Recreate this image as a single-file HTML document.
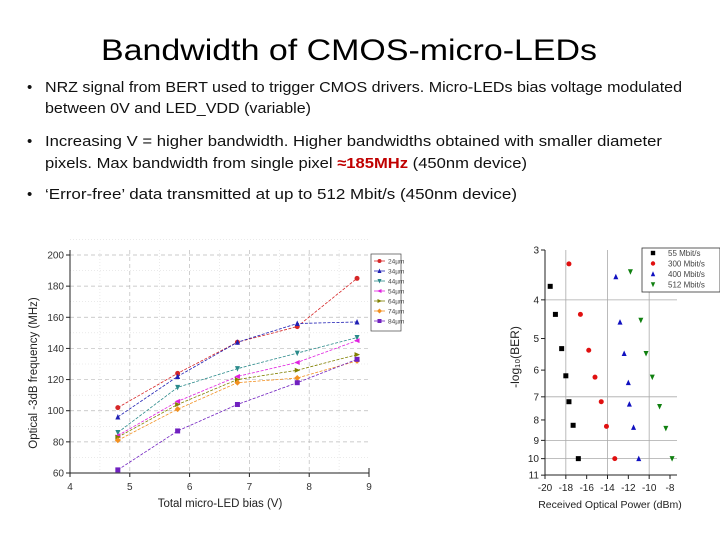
<!DOCTYPE html>
<html><head><meta charset="utf-8"><style>
html,body{margin:0;padding:0;background:#fff;}
svg{display:block;font-family:"Liberation Sans",Arial,sans-serif;}
</style></head><body>
<svg id="s" width="720" height="540" viewBox="0 0 720 540" xmlns="http://www.w3.org/2000/svg">
<text x="101" y="60" font-size="30" textLength="496" lengthAdjust="spacingAndGlyphs">Bandwidth of CMOS-micro-LEDs</text>
<g font-size="15" fill="#111">
<text x="27" y="92">•</text>
<text x="45" y="92" textLength="637" lengthAdjust="spacingAndGlyphs">NRZ signal from BERT used to trigger CMOS drivers. Micro-LEDs bias voltage modulated</text>
<text x="45" y="113" textLength="266" lengthAdjust="spacingAndGlyphs">between 0V and LED_VDD (variable)</text>
<text x="27" y="146">•</text>
<text x="45" y="146" textLength="617" lengthAdjust="spacingAndGlyphs">Increasing V = higher bandwidth. Higher bandwidths obtained with smaller diameter</text>
<text x="45" y="168" textLength="482" lengthAdjust="spacingAndGlyphs">pixels. Max bandwidth from single pixel <tspan fill="#c00000" font-weight="bold">≈185MHz</tspan> (450nm device)</text>
<text x="27" y="199">•</text>
<text x="45" y="199" textLength="472" lengthAdjust="spacingAndGlyphs">‘Error-free’ data transmitted at up to 512 Mbit/s (450nm device)</text>
</g>
<g id="left"></g>
<g id="right"></g>
</svg>
<script>
const xVals=[4.8,5.8,6.8,7.8,8.8];
const seriesNames=['24µm','34µm','44µm','54µm','64µm','74µm','84µm'];
const s24=[102,124,144,154,185];
const s34=[96,122,144,156,157];
const s44=[86,115,127,137,147];
const s54=[84,106,122,131,145];
const s64=[83,104,120,126,136];
const s74=[81,101,118,121,132];
const s84=[62,87,104,118,133];
const seriesColors=['#d62728','#1f1fb4','#2a8a8a','#e020e0','#808000','#f29020','#7020c0'];
const seriesMarkers=['circle','up','down','left','right','diamond','square'];
const xTicks=[4,5,6,7,8,9];
const yTicks=[60,80,100,120,140,160,180,200];

const berPower0=[-19.5,-19,-18.4,-18,-17.7,-17.3,-16.8];
const berVal0=[3.7,4.35,5.3,6.2,7.2,8.25,10];
const berPower1=[-17.7,-16.6,-15.8,-15.2,-14.6,-14.1,-13.3];
const berVal1=[3.25,4.35,5.35,6.25,7.2,8.3,10];
const berPower2=[-13.2,-12.8,-12.4,-12,-11.9,-11.5,-11];
const berVal2=[3.5,4.55,5.45,6.45,7.3,8.35,10];
const berPower3=[-11.8,-10.8,-10.3,-9.7,-9,-8.4,-7.8];
const berVal3=[3.4,4.5,5.45,6.25,7.4,8.4,10];
const berNames=['55 Mbit/s','300 Mbit/s','400 Mbit/s','512 Mbit/s'];
const berXTicks=[-20,-18,-16,-14,-12,-10,-8];
const berYTicks=[3,4,5,6,7,8,9,10,11];

const NS='http://www.w3.org/2000/svg';
function mk(p,t,a){const e=document.createElementNS(NS,t);for(const k in a)e.setAttribute(k,a[k]);p.appendChild(e);return e;}
function marker(p,type,x,y,r,c){
 let e;
 if(type==='circle')e=mk(p,'circle',{cx:x,cy:y,r:r});
 else if(type==='square')e=mk(p,'rect',{x:x-r,y:y-r,width:2*r,height:2*r});
 else{let pts;
  if(type==='up')pts=[[x,y-r-0.5],[x-r,y+r],[x+r,y+r]];
  else if(type==='down')pts=[[x,y+r+0.5],[x-r,y-r],[x+r,y-r]];
  else if(type==='left')pts=[[x-r-0.5,y],[x+r,y-r],[x+r,y+r]];
  else if(type==='right')pts=[[x+r+0.5,y],[x-r,y-r],[x-r,y+r]];
  else pts=[[x,y-r-0.5],[x+r+0.5,y],[x,y+r+0.5],[x-r-0.5,y]];
  e=mk(p,'polygon',{points:pts.map(q=>q.join(',')).join(' ')});}
 e.setAttribute('fill',c);return e;}

// LEFT CHART
const L=document.getElementById('left');
const xs=v=>70+(v-4)*(369-70)/5;
const ys=v=>473-(v-60)*(473-255)/140;
for(const t of yTicks){ if(t>60){const g=mk(L,'line',{x1:70,x2:369,y1:ys(t),y2:ys(t),stroke:'#bbb','stroke-dasharray':'4,3','stroke-width':0.7});
 
 }
 const m=mk(L,'line',{x1:70,x2:369,y1:ys(t+10),y2:ys(t+10),stroke:'#ddd','stroke-dasharray':'1,2','stroke-width':0.6});
 
 }
for(const t of xTicks){ if(t>4&&t<9){const g=mk(L,'line',{x1:xs(t),x2:xs(t),y1:250,y2:473,stroke:'#bbb','stroke-dasharray':'4,3','stroke-width':0.7});
 
 }
 if(t<9){const m=mk(L,'line',{x1:xs(t+0.5),x2:xs(t+0.5),y1:250,y2:473,stroke:'#ddd','stroke-dasharray':'1,2','stroke-width':0.6});
 
 }}
const ax=mk(L,'path',{d:'M70,250 V473 H369 V468',fill:'none',stroke:'#222','stroke-width':1});


for(const t of yTicks){mk(L,'line',{x1:66,x2:70,y1:ys(t),y2:ys(t),stroke:'#222'});
 const tx=mk(L,'text',{x:64,y:ys(t)+3.5,'font-size':10,'text-anchor':'end',fill:'#333'});tx.textContent=t;
 
 }
for(const t of xTicks){mk(L,'line',{x1:xs(t),x2:xs(t),y1:473,y2:477,stroke:'#222'});
 const tx=mk(L,'text',{x:xs(t),y:490,'font-size':10,'text-anchor':'middle',fill:'#333'});tx.textContent=t;
 
 }
let xt=mk(L,'text',{x:220,y:507,'font-size':11.5,'text-anchor':'middle',fill:'#222'});xt.textContent='Total micro-LED bias (V)';


let yt=mk(L,'text',{x:0,y:0,'font-size':11.5,'text-anchor':'middle',fill:'#222',transform:'translate(37,373) rotate(-90)'});yt.textContent='Optical -3dB frequency (MHz)';


const allS=[s24,s34,s44,s54,s64,s74,s84];
allS.forEach((ser,i)=>{
 const g=mk(L,'g',{});
 
 
 const pl=mk(g,'polyline',{points:ser.map((v,j)=>xs(xVals[j])+','+ys(v)).join(' '),fill:'none',stroke:seriesColors[i],'stroke-width':0.8,'stroke-dasharray':'3,1.5'});
 
 
 ser.forEach((v,j)=>{const m=marker(g,seriesMarkers[i],xs(xVals[j]),ys(v),2.5,seriesColors[i]);
  
  });
});
const lg=mk(L,'g',{});


mk(lg,'rect',{x:371,y:254,width:30,height:77,fill:'#fff',stroke:'#444','stroke-width':0.7});
seriesNames.forEach((n,i)=>{const y=261+i*10;
 mk(lg,'line',{x1:374,x2:385,y1:y,y2:y,stroke:seriesColors[i],'stroke-width':0.8});
 marker(lg,seriesMarkers[i],379.5,y,2,seriesColors[i]);
 const t=mk(lg,'text',{x:388,y:y+2.5,'font-size':6.5,fill:'#444'});t.textContent=n;
 
 });

// RIGHT CHART
const R=document.getElementById('right');
const rx=v=>545+(v+20)*(670-545)/12;
const ry=v=>250+(Math.log10(v)-Math.log10(3))*399;
for(const t of [-18,-14,-10]){const g=mk(R,'line',{x1:rx(t),x2:rx(t),y1:250,y2:475,stroke:'#aaa','stroke-width':0.8});
 
 }
for(const t of [4,7,9,10]){const g=mk(R,'line',{x1:545,x2:677,y1:ry(t),y2:ry(t),stroke:'#aaa','stroke-width':0.8});
 
 }
const ax2=mk(R,'path',{d:'M545,250 V475 H677',fill:'none',stroke:'#222','stroke-width':1});


for(const t of berYTicks){mk(R,'line',{x1:541,x2:545,y1:ry(t),y2:ry(t),stroke:'#222'});
 const tx=mk(R,'text',{x:539,y:ry(t)+3.5,'font-size':10,'text-anchor':'end',fill:'#222'});tx.textContent=t;
 
 }
for(const t of berXTicks){mk(R,'line',{x1:rx(t),x2:rx(t),y1:475,y2:479,stroke:'#222'});
 const tx=mk(R,'text',{x:rx(t),y:491,'font-size':10,'text-anchor':'middle',fill:'#222'});tx.textContent=t;
 
 }
xt=mk(R,'text',{x:610,y:508,'font-size':10.5,'text-anchor':'middle',fill:'#222'});xt.textContent='Received Optical Power (dBm)';


yt=mk(R,'text',{x:0,y:0,'font-size':12,'text-anchor':'middle',fill:'#222',transform:'translate(519,357) rotate(-90)'});yt.textContent='-log\u2081\u2080(BER)';


const berP=[berPower0,berPower1,berPower2,berPower3],berV=[berVal0,berVal1,berVal2,berVal3];
const berC=['#000','#e01010','#1010c0','#108010'],berM=['square','circle','up','down'];
berP.forEach((ps,i)=>{const g=mk(R,'g',{});
 
 
 ps.forEach((p,j)=>{const m=marker(g,berM[i],rx(p),ry(berV[i][j]),2.5,berC[i]);
  
  });});
const lg2=mk(R,'g',{});


mk(lg2,'rect',{x:642,y:248,width:78,height:44,fill:'#fff',stroke:'#333','stroke-width':0.8});
berNames.forEach((n,i)=>{const y=253+i*10.5;
 marker(lg2,berM[i],653,y,2.2,berC[i]);
 const t=mk(lg2,'text',{x:668,y:y+3,'font-size':8,fill:'#444'});t.textContent=n;
 
 });
</script>
</body></html>
